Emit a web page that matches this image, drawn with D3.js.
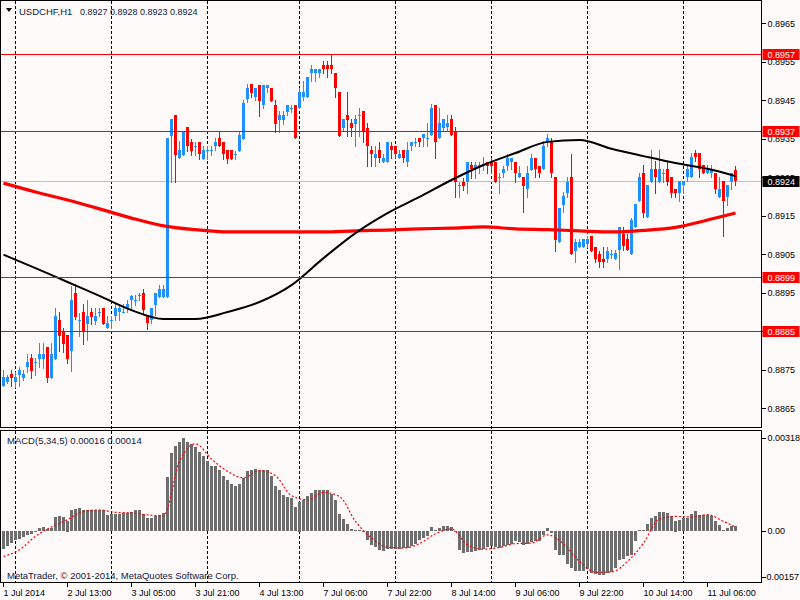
<!DOCTYPE html>
<html>
<head>
<meta charset="utf-8">
<script src="https://cdn.jsdelivr.net/npm/d3@7"></script>
<style>
  html, body { margin: 0; padding: 0; background: #fffafa; }
  svg { display: block; font-family: "Liberation Sans", Arial, sans-serif; }
</style>
</head>
<body>
<svg id="chart" width="800" height="600"></svg>
<script>
// USDCHF H1 bars (bar 0 = 1 Jul 21:00)
const open = [
  0.88709,0.88719,0.88739,0.88719,0.88736,0.88729,0.88757,0.88780,0.88769,0.88779,
  0.88779,0.88809,0.88729,0.88779,0.88879,0.88851,0.88840,0.88800,0.88950,0.88878,
  0.88900,0.88869,0.88900,0.88878,0.88900,0.88910,0.88858,0.88878,0.88890,0.88900,
  0.88900,0.88910,0.88930,0.88931,0.88942,0.88949,0.88892,0.88880,0.88918,0.88940,
  0.88940,0.88940,0.89357,0.89412,0.89299,0.89308,0.89381,0.89342,0.89331,0.89342,
  0.89298,0.89321,0.89321,0.89330,0.89352,0.89342,0.89321,0.89321,0.89310,0.89319,
  0.89350,0.89453,0.89492,0.89459,0.89491,0.89439,0.89481,0.89483,0.89439,0.89399,
  0.89399,0.89420,0.89429,0.89439,0.89429,0.89459,0.89459,0.89521,0.89521,0.89521,
  0.89542,0.89542,0.89542,0.89521,0.89471,0.89379,0.89412,0.89390,0.89389,0.89412,
  0.89422,0.89379,0.89321,0.89299,0.89321,0.89289,0.89289,0.89331,0.89331,0.89299,
  0.89321,0.89289,0.89330,0.89341,0.89351,0.89351,0.89351,0.89360,0.89438,0.89351,
  0.89379,0.89381,0.89401,0.89370,0.89230,0.89239,0.89239,0.89282,0.89272,0.89280,
  0.89284,0.89291,0.89289,0.89289,0.89250,0.89260,0.89280,0.89289,0.89289,0.89250,
  0.89250,0.89220,0.89269,0.89299,0.89280,0.89271,0.89343,0.89343,0.89250,0.89081,
  0.89178,0.89210,0.89250,0.89058,0.89070,0.89070,0.89078,0.89098,0.89070,0.89050,
  0.89039,0.89039,0.89051,0.89037,0.89061,0.89103,0.89091,0.89051,0.89120,0.89189,
  0.89262,0.89148,0.89239,0.89271,0.89239,0.89260,0.89271,0.89250,0.89219,0.89210,
  0.89230,0.89250,0.89250,0.89312,0.89312,0.89283,0.89260,0.89260,0.89260,0.89200,
  0.89241,0.89200,0.89239,0.89270
];
const high = [
  0.88749,0.88736,0.88749,0.88745,0.88758,0.88749,0.88791,0.88791,0.88780,0.88819,
  0.88819,0.88809,0.88819,0.88910,0.88900,0.88859,0.88840,0.88968,0.88974,0.88898,
  0.88921,0.88931,0.88910,0.88910,0.88910,0.88910,0.88890,0.88890,0.88921,0.88921,
  0.88921,0.88931,0.88943,0.88943,0.88949,0.88959,0.88892,0.88910,0.88949,0.88969,
  0.88969,0.89352,0.89401,0.89412,0.89343,0.89370,0.89381,0.89350,0.89342,0.89342,
  0.89331,0.89330,0.89330,0.89352,0.89370,0.89342,0.89321,0.89321,0.89319,0.89370,
  0.89451,0.89492,0.89492,0.89483,0.89491,0.89491,0.89491,0.89483,0.89451,0.89422,
  0.89422,0.89439,0.89439,0.89439,0.89483,0.89500,0.89510,0.89542,0.89531,0.89531,
  0.89552,0.89552,0.89569,0.89521,0.89471,0.89401,0.89471,0.89401,0.89412,0.89429,
  0.89422,0.89390,0.89330,0.89330,0.89341,0.89310,0.89341,0.89341,0.89331,0.89321,
  0.89321,0.89341,0.89341,0.89351,0.89351,0.89362,0.89390,0.89440,0.89438,0.89429,
  0.89401,0.89412,0.89412,0.89381,0.89239,0.89249,0.89291,0.89291,0.89291,0.89291,
  0.89304,0.89291,0.89299,0.89289,0.89260,0.89280,0.89310,0.89299,0.89289,0.89280,
  0.89250,0.89280,0.89310,0.89299,0.89280,0.89343,0.89362,0.89351,0.89250,0.89169,
  0.89213,0.89250,0.89310,0.89090,0.89090,0.89090,0.89098,0.89098,0.89070,0.89058,
  0.89070,0.89070,0.89061,0.89061,0.89120,0.89120,0.89103,0.89143,0.89181,0.89262,
  0.89283,0.89230,0.89321,0.89293,0.89321,0.89271,0.89293,0.89250,0.89219,0.89241,
  0.89241,0.89283,0.89312,0.89321,0.89312,0.89283,0.89283,0.89283,0.89262,0.89250,
  0.89241,0.89230,0.89262,0.89280
];
const low = [
  0.88709,0.88717,0.88709,0.88706,0.88709,0.88723,0.88745,0.88729,0.88736,0.88758,
  0.88755,0.88719,0.88729,0.88779,0.88800,0.88797,0.88768,0.88748,0.88881,0.88839,
  0.88818,0.88827,0.88870,0.88870,0.88890,0.88869,0.88858,0.88858,0.88879,0.88879,
  0.88900,0.88900,0.88910,0.88918,0.88930,0.88897,0.88855,0.88871,0.88892,0.88940,
  0.88940,0.88940,0.89239,0.89239,0.89299,0.89308,0.89319,0.89308,0.89308,0.89297,
  0.89297,0.89297,0.89308,0.89321,0.89330,0.89297,0.89288,0.89297,0.89297,0.89319,
  0.89350,0.89446,0.89459,0.89451,0.89410,0.89429,0.89472,0.89448,0.89367,0.89367,
  0.89389,0.89412,0.89420,0.89351,0.89429,0.89451,0.89459,0.89500,0.89500,0.89510,
  0.89521,0.89510,0.89521,0.89459,0.89358,0.89369,0.89358,0.89358,0.89330,0.89358,
  0.89341,0.89280,0.89280,0.89280,0.89291,0.89289,0.89289,0.89299,0.89299,0.89299,
  0.89291,0.89280,0.89321,0.89331,0.89330,0.89330,0.89330,0.89360,0.89299,0.89351,
  0.89369,0.89369,0.89360,0.89200,0.89200,0.89218,0.89208,0.89249,0.89249,0.89260,
  0.89269,0.89260,0.89260,0.89239,0.89210,0.89250,0.89269,0.89271,0.89239,0.89250,
  0.89159,0.89200,0.89269,0.89250,0.89250,0.89271,0.89332,0.89250,0.89058,0.89081,
  0.89159,0.89200,0.89050,0.89029,0.89070,0.89070,0.89070,0.89058,0.89029,0.89018,
  0.89018,0.89029,0.89040,0.89037,0.89011,0.89061,0.89061,0.89051,0.89120,0.89189,
  0.89148,0.89148,0.89239,0.89210,0.89239,0.89239,0.89230,0.89200,0.89200,0.89189,
  0.89210,0.89241,0.89250,0.89293,0.89250,0.89260,0.89260,0.89250,0.89210,0.89200,
  0.89098,0.89178,0.89219,0.89230
];
const close = [
  0.88732,0.88732,0.88729,0.88731,0.88749,0.88739,0.88770,0.88748,0.88770,0.88790,
  0.88790,0.88729,0.88791,0.88890,0.88838,0.88818,0.88779,0.88931,0.88887,0.88879,
  0.88848,0.88890,0.88888,0.88890,0.88901,0.88869,0.88871,0.88879,0.88910,0.88910,
  0.88901,0.88921,0.88942,0.88932,0.88945,0.88905,0.88871,0.88910,0.88949,0.88959,
  0.88959,0.89352,0.89401,0.89308,0.89321,0.89370,0.89330,0.89319,0.89332,0.89310,
  0.89321,0.89322,0.89322,0.89342,0.89330,0.89310,0.89297,0.89297,0.89311,0.89359,
  0.89442,0.89482,0.89470,0.89483,0.89448,0.89491,0.89491,0.89448,0.89389,0.89412,
  0.89412,0.89439,0.89430,0.89351,0.89471,0.89471,0.89510,0.89531,0.89531,0.89531,
  0.89531,0.89531,0.89531,0.89481,0.89358,0.89401,0.89399,0.89379,0.89401,0.89413,
  0.89367,0.89330,0.89310,0.89310,0.89299,0.89299,0.89341,0.89321,0.89310,0.89310,
  0.89299,0.89321,0.89341,0.89342,0.89341,0.89362,0.89352,0.89429,0.89341,0.89390,
  0.89401,0.89390,0.89360,0.89239,0.89231,0.89228,0.89291,0.89272,0.89282,0.89281,
  0.89285,0.89280,0.89280,0.89239,0.89251,0.89271,0.89299,0.89299,0.89260,0.89260,
  0.89228,0.89260,0.89299,0.89271,0.89260,0.89332,0.89351,0.89260,0.89087,0.89169,
  0.89201,0.89239,0.89050,0.89081,0.89081,0.89090,0.89090,0.89058,0.89039,0.89029,
  0.89029,0.89058,0.89052,0.89053,0.89120,0.89072,0.89061,0.89139,0.89181,0.89252,
  0.89158,0.89230,0.89271,0.89250,0.89271,0.89261,0.89239,0.89210,0.89210,0.89241,
  0.89241,0.89271,0.89302,0.89302,0.89271,0.89260,0.89271,0.89271,0.89219,0.89219,
  0.89189,0.89230,0.89262,0.89240
];

// moving averages, read every 8 bars
const maBars = [0,8,16,24,32,40,48,56,64,72,80,88,96,104,112,120,128,136,144,152,160,168,176,183];
const maBlack = [0.89049,0.89014,0.88978,0.88942,0.88905,0.88882,0.88882,0.88900,0.88926,0.88970,
  0.89040,0.89105,0.89157,0.89199,0.89243,0.89282,0.89313,0.89342,0.89347,0.89324,
  0.89305,0.89287,0.89272,0.89253];
const maRed = [0.89235,0.89212,0.89191,0.89168,0.89144,0.89124,0.89114,0.89108,0.89108,0.89108,
  0.89108,0.89111,0.89113,0.89116,0.89118,0.89121,0.89116,0.89114,0.89111,0.89108,
  0.89112,0.89120,0.89139,0.89157];

// MACD(5,34,5) main values per bar
const macd = [
  -0.00062,-0.00050,-0.00041,-0.00032,-0.00027,-0.00021,-0.00014,-0.00010,-0.00002,0.00010,
  0.00014,0.00007,0.00009,0.00047,0.00052,0.00048,0.00036,0.00071,0.00075,0.00079,
  0.00073,0.00073,0.00073,0.00073,0.00073,0.00071,0.00056,0.00058,0.00058,0.00058,
  0.00060,0.00060,0.00066,0.00071,0.00071,0.00058,0.00043,0.00043,0.00051,0.00054,
  0.00062,0.00185,0.00267,0.00289,0.00303,0.00318,0.00303,0.00298,0.00287,0.00269,
  0.00255,0.00238,0.00223,0.00221,0.00210,0.00189,0.00173,0.00162,0.00155,0.00162,
  0.00181,0.00204,0.00210,0.00212,0.00210,0.00210,0.00207,0.00187,0.00155,0.00141,
  0.00124,0.00116,0.00112,0.00082,0.00101,0.00107,0.00121,0.00130,0.00139,0.00141,
  0.00139,0.00139,0.00128,0.00107,0.00059,0.00041,0.00025,0.00007,0.00005,0.00005,
  -0.00005,-0.00030,-0.00048,-0.00056,-0.00066,-0.00068,-0.00061,-0.00061,-0.00061,-0.00060,
  -0.00058,-0.00058,-0.00052,-0.00043,-0.00032,-0.00024,-0.00018,0.00013,0.00005,0.00010,
  0.00018,0.00018,0.00013,-0.00002,-0.00064,-0.00075,-0.00071,-0.00071,-0.00067,-0.00064,
  -0.00062,-0.00056,-0.00052,-0.00056,-0.00057,-0.00052,-0.00048,-0.00043,-0.00035,-0.00038,
  -0.00049,-0.00043,-0.00036,-0.00034,-0.00035,-0.00013,0.00009,-0.00007,-0.00066,-0.00081,
  -0.00081,-0.00112,-0.00126,-0.00138,-0.00138,-0.00138,-0.00130,-0.00144,-0.00146,-0.00151,
  -0.00151,-0.00144,-0.00140,-0.00126,-0.00098,-0.00096,-0.00087,-0.00081,-0.00035,0.00005,
  0.00005,0.00025,0.00044,0.00050,0.00065,0.00065,0.00062,0.00050,0.00036,0.00039,
  0.00043,0.00043,0.00058,0.00068,0.00055,0.00055,0.00055,0.00050,0.00033,0.00022,
  0.00005,0.00009,0.00016,0.00016
];
// signal line, read every 4 bars
const sigBars = d3.range(0, 184, 4).concat([183]);
const signal = [
  -0.00087,-0.00064,-0.00018,0.00014,0.00039,0.00068,0.00072,0.00064,0.00062,0.00055,
  0.00052,0.00238,0.00298,0.00246,0.00204,0.00182,0.00207,0.00189,0.00121,0.00107,
  0.00132,0.00118,0.00033,-0.00024,-0.00055,-0.00058,-0.00043,-0.00009,0.00007,-0.00047,
  -0.00062,-0.00056,-0.00043,-0.00041,-0.00013,-0.00044,-0.00104,-0.00141,-0.00140,-0.00104,
  -0.00041,0.00042,0.00050,0.00048,0.00056,0.00033,0.00014
];

const levels = [0.8957, 0.8937, 0.8899, 0.8885];
const bid = 0.8924;
const priceTicks = d3.range(11).map(i => 0.8865 + i * 0.001);
const macdTicks = [0.00318, 0, -0.00157];
const timeBars = [0,16,32,48,64,80,96,112,128,144,160,176];
const timeLabels = ["1 Jul 2014","2 Jul 13:00","3 Jul 05:00","3 Jul 21:00","4 Jul 13:00",
  "7 Jul 06:00","7 Jul 22:00","8 Jul 14:00","9 Jul 06:00","9 Jul 22:00","10 Jul 14:00","11 Jul 06:00"];
const gridBars = [3,27,51,74,98,122,146,170];

const svg = d3.select("#chart");
const L = 0.5, R = 761.5, T = 0.5, B1 = 427.5, T2 = 430.5, B2 = 582.5;
const txt = "#10183a";

const x = d3.scaleLinear().domain([0, 183]).range([3.5, 735.5]);
const y = d3.scaleLinear().domain([0.8865, 0.8965]).range([408.3, 23.3]);
const ym = d3.scaleLinear().domain([-0.00157, 0.00318]).range([577, 438]);

svg.append("rect").attr("width", 800).attr("height", 600).attr("fill", "#fffafa");

svg.append("clipPath").attr("id", "c1").append("rect")
  .attr("x", L).attr("y", T).attr("width", R - L).attr("height", B1 - T);
svg.append("clipPath").attr("id", "c2").append("rect")
  .attr("x", L).attr("y", T2).attr("width", R - L).attr("height", B2 - T2);

// dashed day separators
svg.append("g").selectAll("line").data(gridBars).enter().append("line")
  .attr("x1", d => x(d)).attr("x2", d => x(d))
  .attr("y1", T).attr("y2", B2)
  .attr("stroke", "#000").attr("stroke-dasharray", "3,2")
  .attr("shape-rendering", "crispEdges");

const main = svg.append("g").attr("clip-path", "url(#c1)");

// bid line
main.append("line").attr("x1", L).attr("x2", R)
  .attr("y1", Math.round(y(bid)) + 0.5).attr("y2", Math.round(y(bid)) + 0.5)
  .attr("stroke", "#c0c0c0").attr("shape-rendering", "crispEdges");

// candles
const idx = d3.range(close.length);
main.append("g").selectAll("line").data(idx).enter().append("line")
  .attr("x1", i => x(i)).attr("x2", i => x(i))
  .attr("y1", i => Math.round(y(high[i]))).attr("y2", i => Math.round(y(low[i])) + 1)
  .attr("stroke", i => close[i] >= open[i] ? "#1e90ff" : "#ff0000")
  .attr("shape-rendering", "crispEdges");
main.append("g").selectAll("rect").data(idx).enter().append("rect")
  .attr("x", i => x(i) - 1.5).attr("width", 3)
  .attr("y", i => Math.round(y(Math.max(open[i], close[i]))))
  .attr("height", i => Math.max(1, Math.round(y(Math.min(open[i], close[i]))) - Math.round(y(Math.max(open[i], close[i])))))
  .attr("fill", i => close[i] >= open[i] ? "#1e90ff" : "#ff0000")
  .attr("shape-rendering", "crispEdges");

// moving averages
const maLine = vals => d3.line()
  .x((d, i) => x(maBars[i])).y(d => y(d))
  .curve(d3.curveMonotoneX)(vals);
main.append("path").attr("d", maLine(maRed))
  .attr("fill", "none").attr("stroke", "#ff0000").attr("stroke-width", 3.2);
main.append("path").attr("d", maLine(maBlack))
  .attr("fill", "none").attr("stroke", "#000").attr("stroke-width", 2);

// horizontal levels on top
main.append("g").selectAll("rect").data(levels).enter().append("rect")
  .attr("x", L).attr("width", R - L)
  .attr("y", d => Math.round(y(d))).attr("height", 1)
  .attr("fill", "#ff0000").attr("shape-rendering", "crispEdges");

// MACD pane
const sub = svg.append("g").attr("clip-path", "url(#c2)");
sub.append("g").selectAll("rect").data(idx).enter().append("rect")
  .attr("x", i => x(i) - 1.5).attr("width", 3)
  .attr("y", i => Math.round(Math.min(ym(macd[i]), ym(0))))
  .attr("height", i => Math.max(1, Math.round(Math.abs(ym(macd[i]) - ym(0)))))
  .attr("fill", "#6e6e6e")
  .attr("shape-rendering", "crispEdges");
sub.append("path")
  .attr("d", d3.line().x((d, i) => x(sigBars[i])).y(d => ym(d)).curve(d3.curveMonotoneX)(signal))
  .attr("fill", "none").attr("stroke", "#ff0000").attr("stroke-width", 1.2)
  .attr("stroke-dasharray", "2,2");

// frames
const frame = svg.append("g").attr("fill", "none").attr("stroke", "#000")
  .attr("shape-rendering", "crispEdges");
frame.append("rect").attr("x", L).attr("y", T).attr("width", R - L).attr("height", B1 - T);
frame.append("rect").attr("x", L).attr("y", T2).attr("width", R - L).attr("height", B2 - T2);

// price axis
const ay = svg.append("g").attr("transform", `translate(${R},0)`)
  .call(d3.axisRight(y).tickValues(priceTicks).tickFormat(d3.format(".4f")).tickSize(4).tickPadding(2));
ay.select(".domain").remove();

const am = svg.append("g").attr("transform", `translate(${R},0)`)
  .call(d3.axisRight(ym).tickValues(macdTicks)
    .tickFormat(d => d === 0 ? "0.00" : d.toFixed(5)).tickSize(4).tickPadding(2));
am.select(".domain").remove();
am.selectAll("text").attr("dx", d => d < 0 ? -4 : 0);

const ax = svg.append("g").attr("transform", `translate(0,${B2})`)
  .call(d3.axisBottom(x).tickValues(timeBars).tickFormat((d, i) => timeLabels[i]).tickSize(4).tickPadding(3));
ax.select(".domain").remove();
ax.selectAll(".tick line").attr("transform", "translate(-1,0)");
ax.selectAll("text").attr("text-anchor", "start").attr("dx", "-0.5");

svg.selectAll(".tick text").attr("font-size", 9).attr("fill", "#000")
  .attr("font-family", "'Liberation Sans', Arial, sans-serif");
svg.selectAll(".tick line").attr("stroke", "#000").attr("shape-rendering", "crispEdges");

// level labels on price axis
const tags = levels.map(v => ({ v, bg: "#ff0000" })).concat([{ v: bid, bg: "#000" }]);
const tg = svg.append("g").selectAll("g").data(tags).enter().append("g")
  .attr("transform", d => `translate(${R + 1},${Math.round(y(d.v)) - 5})`);
tg.append("rect").attr("width", 37).attr("height", 11).attr("fill", d => d.bg);
tg.append("text").attr("x", 5).attr("y", 9).attr("fill", "#fff").attr("font-size", 9)
  .text(d => d.v.toFixed(4));

// texts
svg.append("path").attr("d", "M6,8 L12,8 L9,12 Z").attr("fill", "#000");
const head = svg.append("text").attr("y", 15).attr("font-size", 9.5).attr("fill", txt);
const headParts = ["USDCHF,H1"].concat([open[183], high[183], low[183], close[183]].map(v => v.toFixed(4)));
const headX = [19, 80, 110, 140, 170];
head.selectAll("tspan").data(headParts).enter().append("tspan")
  .attr("x", (d, i) => headX[i]).attr("font-size", (d, i) => i ? 9 : 9.5).text(d => d);
svg.append("text").attr("x", 7).attr("y", 444).attr("font-size", 9.5).attr("fill", txt)
  .text("MACD(5,34,5) " + macd[183].toFixed(5) + " " + signal[signal.length - 1].toFixed(5));
svg.append("text").attr("x", 7).attr("y", 579).attr("font-size", 9.5).attr("fill", txt)
  .text("MetaTrader, © 2001-2014, MetaQuotes Software Corp.");
</script>
</body>
</html>
